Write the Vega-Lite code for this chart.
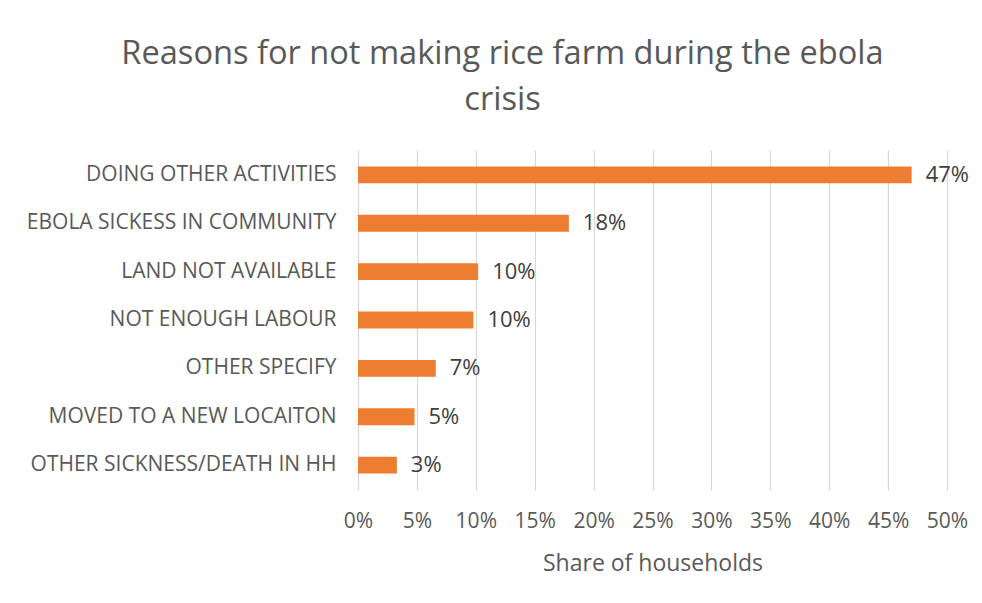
{
  "$schema": "https://vega.github.io/schema/vega-lite/v6.json",
  "width": 589,
  "height": 340,
  "autosize": {"type": "none"},
  "padding": {"left": 358, "top": 150, "right": 35, "bottom": 113},
  "background": "white",
  "title": {
    "text": ["Reasons for not making rice farm during the ebola", "crisis"],
    "font": "Open Sans",
    "fontSize": 32.6,
    "fontWeight": "normal",
    "color": "#595959",
    "lineHeight": 46,
    "anchor": "middle",
    "dx": -150,
    "offset": 33
  },
  "data": {
    "values": [
      {"reason": "DOING OTHER ACTIVITIES", "share": 0.47},
      {"reason": "EBOLA SICKESS IN COMMUNITY", "share": 0.179},
      {"reason": "LAND NOT AVAILABLE", "share": 0.102},
      {"reason": "NOT ENOUGH LABOUR", "share": 0.098},
      {"reason": "OTHER  SPECIFY", "share": 0.066},
      {"reason": "MOVED TO A NEW LOCAITON", "share": 0.048},
      {"reason": "OTHER SICKNESS/DEATH IN HH", "share": 0.033}
    ]
  },
  "encoding": {
    "y": {
      "field": "reason",
      "type": "nominal",
      "sort": null,
      "scale": {"paddingInner": 0.65, "paddingOuter": 0.34},
      "axis": {
        "title": null,
        "ticks": false,
        "domain": false,
        "labelPadding": 22,
        "labelFont": "Open Sans",
        "labelFontSize": 21,
        "labelColor": "#595959",
        "labelLimit": 400
      }
    },
    "x": {
      "field": "share",
      "type": "quantitative",
      "scale": {"domain": [0, 0.5]},
      "axis": {
        "title": "Share of households",
        "format": ".0%",
        "values": [0, 0.05, 0.1, 0.15, 0.2, 0.25, 0.3, 0.35, 0.4, 0.45, 0.5],
        "labelOverlap": false,
        "labelFlush": false,
        "ticks": false,
        "domain": false,
        "grid": true,
        "gridColor": "#d9d9d9",
        "gridWidth": 1.2,
        "labelPadding": 20,
        "labelFont": "Open Sans",
        "labelFontSize": 21,
        "labelColor": "#595959",
        "titleFont": "Open Sans",
        "titleFontSize": 23,
        "titleFontWeight": "normal",
        "titleColor": "#595959",
        "titlePadding": 21
      }
    }
  },
  "layer": [
    {"mark": {"type": "bar", "color": "#ED7D31"}},
    {
      "mark": {"type": "text", "align": "left", "dx": 14, "font": "Open Sans", "fontSize": 22, "color": "#404040"},
      "encoding": {"text": {"field": "share", "type": "quantitative", "format": ".0%"}}
    }
  ],
  "config": {"view": {"stroke": null}}
}
